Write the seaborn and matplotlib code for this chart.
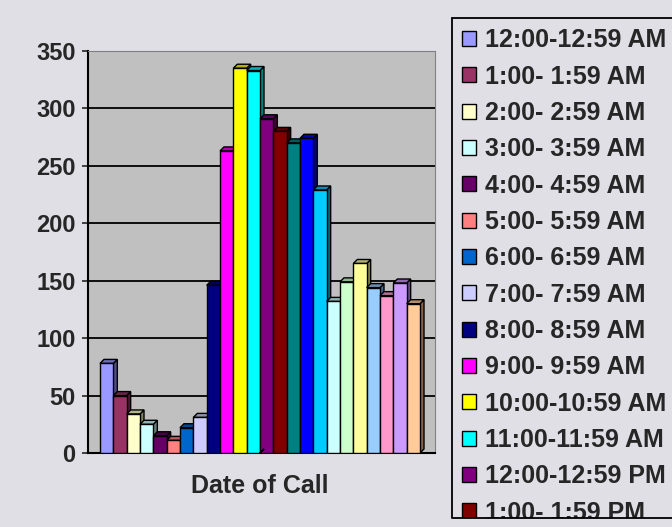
import matplotlib
matplotlib.use("Agg")
import matplotlib.pyplot as plt
import seaborn as sns
import pandas as pd
from matplotlib.patches import Polygon, Rectangle
from matplotlib.lines import Line2D
from matplotlib.colors import to_rgb

# calls per hour of the day
hours = ["12:00-12:59 AM", "1:00- 1:59 AM", "2:00- 2:59 AM", "3:00- 3:59 AM",
         "4:00- 4:59 AM", "5:00- 5:59 AM", "6:00- 6:59 AM", "7:00- 7:59 AM",
         "8:00- 8:59 AM", "9:00- 9:59 AM", "10:00-10:59 AM", "11:00-11:59 AM",
         "12:00-12:59 PM", "1:00- 1:59 PM", "2:00- 2:59 PM", "3:00- 3:59 PM",
         "4:00- 4:59 PM", "5:00- 5:59 PM", "6:00- 6:59 PM", "7:00- 7:59 PM",
         "8:00- 8:59 PM", "9:00- 9:59 PM", "10:00-10:59 PM", "11:00-11:59 PM"]
calls = [78, 50, 34, 25, 15, 11, 22, 31, 146, 263, 335, 333,
         291, 280, 270, 274, 229, 132, 149, 165, 144, 137, 148, 130]
colors = ["#9999FF", "#993366", "#FFFFCC", "#CCFFFF", "#660066", "#FF8080",
          "#0066CC", "#CCCCFF", "#000080", "#FF00FF", "#FFFF00", "#00FFFF",
          "#800080", "#800000", "#008080", "#0000FF", "#00CCFF", "#CCFFFF",
          "#CCFFCC", "#FFFF99", "#99CCFF", "#FF99CC", "#CC99FF", "#FFCC99"]
group = "Date of Call"

bg = "#DFDFE5"
wall = "#C0C0C0"

sns.set_style("white")
plt.rcParams['font.family'] = ['Liberation Sans', 'DejaVu Sans']
plt.rcParams['font.weight'] = 'bold'

fig = plt.figure(figsize=(6.72, 5.27), dpi=100, facecolor=bg)
ax = fig.add_axes([88/672, 74/527, 347/672, 402/527])

df = pd.DataFrame({"grp": group, "hour": hours, "calls": calls})
sns.barplot(data=df, x="grp", y="calls", hue="hour", hue_order=hours,
            palette=colors, saturation=1, edgecolor="black", linewidth=1,
            ax=ax, zorder=3)

leg = ax.get_legend()
handles = leg.legend_handles
leg.remove()

ax.set_facecolor(wall)
ax.set_xlim(-0.43, 0.4375)
ax.set_ylim(0, 350)
ax.set_yticks(range(0, 351, 50))
ax.yaxis.grid(True, color="black", linewidth=1.3)
ax.set_axisbelow(True)
ax.set_xlabel("")
ax.set_ylabel("")
for side in ["top", "right"]:
    ax.spines[side].set_color("#808080")
for side in ["left", "bottom"]:
    ax.spines[side].set_color("black")
    ax.spines[side].set_linewidth(1.5)
ax.tick_params(axis="y", direction="out", length=4, width=1.2, labelsize=17, pad=5, left=True)
ax.tick_params(axis="x", length=0, labelsize=18, pad=15)
for t in ax.get_xticklabels() + ax.get_yticklabels():
    t.set_fontweight("bold")

# fake 3D: side and top faces on each bar
fig.canvas.draw()
inv = ax.transData.inverted()
dx, dy = 4, 4
bars = sorted(ax.patches, key=lambda p: p.get_x())
for i, p in enumerate(bars):
    (x0, y0), (x1, y1) = ax.transData.transform(
        [(p.get_x(), 0), (p.get_x() + p.get_width(), p.get_height())])
    base = to_rgb(p.get_facecolor())
    side = [(x1, y0), (x1 + dx, y0 + dy), (x1 + dx, y1 + dy), (x1, y1)]
    top = [(x0, y1), (x0 + dx, y1 + dy), (x1 + dx, y1 + dy), (x1, y1)]
    z = 3 + 2 * i
    ax.add_patch(Polygon(inv.transform(side), closed=True,
                         facecolor=[c * 0.5 for c in base], edgecolor="black",
                         linewidth=1, zorder=z, clip_on=False))
    ax.add_patch(Polygon(inv.transform(top), closed=True,
                         facecolor=[c * 0.7 for c in base], edgecolor="black",
                         linewidth=1, zorder=z, clip_on=False))
    p.set_zorder(z + 1)

fig.legend(handles, hours, loc="upper left",
           bbox_to_anchor=(452/672, 1 - 18/527),
           prop={"size": 18, "weight": "bold"},
           frameon=True, facecolor=bg, edgecolor="black", framealpha=1,
           fancybox=False, borderpad=0.41, labelspacing=0.494,
           handlelength=0.55, handleheight=0.55, handletextpad=0.35,
           borderaxespad=0)
fig.legends[0].get_frame().set_linewidth(1.3)

# legend is clipped at the bottom of the chart area, like the original
cut = 1 - 518/527
fig.add_artist(Rectangle((445/672, 0), 1, cut, transform=fig.transFigure,
                         facecolor=bg, edgecolor="none", zorder=20))
fig.add_artist(Line2D([452/672, 1], [cut, cut], transform=fig.transFigure,
                      color="black", linewidth=1.3, zorder=21))

fig.savefig("out.png", dpi=100, facecolor=bg)
